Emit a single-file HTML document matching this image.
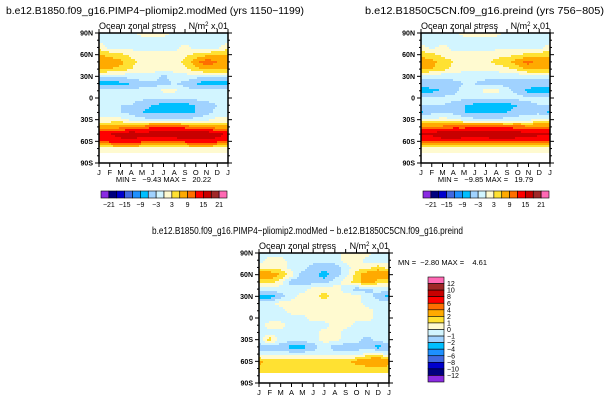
<!DOCTYPE html>
<html><head><meta charset="utf-8">
<style>
html,body{margin:0;padding:0;background:#fff;}
svg{display:block;font-family:"Liberation Sans",sans-serif;}
</style></head>
<body>
<svg id="chart" width="611" height="401" viewBox="0 0 611 401" xmlns="http://www.w3.org/2000/svg">
<text x="6" y="14" font-size="10" textLength="298" lengthAdjust="spacingAndGlyphs">b.e12.B1850.f09_g16.PIMP4−pliomip2.modMed (yrs 1150−1199)</text>
<text x="365" y="14" font-size="10" textLength="239" lengthAdjust="spacingAndGlyphs">b.e12.B1850C5CN.f09_g16.preind (yrs 756−805)</text>
<text x="152" y="234" font-size="10" textLength="311" lengthAdjust="spacingAndGlyphs">b.e12.B1850.f09_g16.PIMP4−pliomip2.modMed − b.e12.B1850C5CN.f09_g16.preind</text>
</svg>
<script>
const months=["J","F","M","A","M","J","J","A","S","O","N","D","J"];
const lats=[90,80,70,60,50,40,30,20,10,0,-10,-20,-30,-40,-50,-60,-70,-80,-90];
const latTicks=["90N","60N","30N","0","30S","60S","90S"];
const N=NaN;
const fieldLeft=[
[-1,-1,-1,-1,1,1,1,-1,-1,-1,-1,-1,-1],
[-1,-1,-1,-1,-1,-1,-1,-1,-1,-1,-1,-1,-1],
[2,-1,-1,-1,-1,-1,-1,-1,1,-1,-1,-1,2],
[6,5,4,2,1,1,1,1,2,4,5,6,6],
[9,8,7,4,2,1,1,1,4,8,11,9,9],
[7,6,5,3,1,1,1,1,2,5,7,7,7],
[-2,-2,-2,-2,-1,-1,-4,-1,-1,-2,-2,-2,-2],
[-8,-8,-7,-6,-4,-4,-4,-3,-4,-6,-8,-8,-8],
[-2,-2,-2,-2,-2,-2,1,1,-2,-2,-2,-2,-2],
[-2,-2,-2,-2,-2,-3,-3,-3,-3,-2,-2,-2,-2],
[-3,-3,-3,-3,-5,-6,-7,-7,-7,-6,-4,-3,-3],
[-2,-2,-3,-4,-6,-7,-7,-7,-7,-6,-4,-2,-2],
[1,1,1,-1,-2,-2,-2,-2,-2,-2,-1,1,1],
[7,7,8,9,10,12,12,12,11,10,9,7,7],
[14,15,16,18,16,17,17,17,18,18,18,17,14],
[12,13,14,14,13,13,13,13,13,14,14,13,12],
[2,2,2,2,2,2,2,2,2,2,2,2,2],
[N,N,N,N,N,N,N,N,N,N,N,N,N],
[N,N,N,N,N,N,N,N,N,N,N,N,N]];
const fieldRight=[
[-1,-1,-1,-1,1,1,1,1,-1,-1,-1,-1,-1],
[-1,-1,-1,-1,-1,-1,-1,-1,-1,-1,-1,-1,-1],
[1,-1,1,-1,-1,-1,-1,-1,-1,-1,-1,-1,1],
[5,4,2,1,1,1,1,2,2,3,4,5,5],
[8,7,5,3,1,1,2,4,5,8,10,8,8],
[7,6,4,2,1,1,1,1,2,4,7,7,7],
[-2,-2,-2,-2,-2,-2,-2,-2,-2,-2,-2,-2,-2],
[-4,-4,-4,-4,-3,-3,-4,-4,-4,-4,-4,-4,-4],
[-8,-7,-6,-4,-2,-2,1,1,-2,-4,-7,-8,-8],
[-2,-2,-2,-2,-2,-2,-2,-2,-3,-2,-2,-2,-2],
[-3,-3,-3,-4,-6,-7,-7,-7,-7,-6,-4,-3,-3],
[-7,-4,-3,-4,-6,-7,-7,-7,-6,-5,-4,-4,-7],
[1,1,1,1,-1,-2,-2,-2,-2,-1,-1,1,1],
[10,10,10,11,11,12,12,12,11,11,10,10,10],
[16,16,18,18,17,17,17,18,18,17,16,16,16],
[12,12,13,13,13,13,13,13,13,13,13,12,12],
[1,1,1,1,1,1,1,1,1,1,1,1,1],
[N,N,N,N,N,N,N,N,N,N,N,N,N],
[N,N,N,N,N,N,N,N,N,N,N,N,N]];
const fieldDiff=[
[-0.5,-0.5,-0.5,-0.5,-0.5,-0.5,-0.5,-0.5,0.5,0.5,0.5,-0.5,-0.5],
[-0.5,0.5,0.5,-0.5,-0.5,-0.5,-0.5,-0.5,0.5,0.5,-0.5,-0.5,-0.5],
[0.5,0.5,0.5,-0.5,-0.5,-1.5,-1.5,-1.5,-0.5,0.5,0.5,1.5,0.5],
[3,3,2,0.5,-1.5,-1.5,-2.5,-1.5,-0.5,1.5,3,3,3],
[1.5,1.5,0.5,-1.5,-1.5,-1.5,-1.5,-0.5,0.5,1.5,3,1.5,1.5],
[-0.5,-0.5,-0.5,-0.5,-0.5,0.5,0.5,0.5,-0.5,-1.5,-1.5,-0.5,-0.5],
[-2.5,-2.5,-1.5,-0.5,0.5,0.5,1.5,0.5,0.5,0.5,-0.5,-1.5,-2.5],
[-0.5,-0.5,0.5,0.5,0.5,0.5,0.5,0.5,0.5,0.5,-0.5,-0.5,-0.5],
[-0.5,-0.5,-0.5,0.5,0.5,0.5,0.5,0.5,0.5,0.5,0.5,-0.5,-0.5],
[-0.5,-0.5,-0.5,-0.5,-0.5,0.5,0.5,0.5,0.5,0.5,0.5,-0.5,-0.5],
[-0.5,0.5,0.5,-0.5,-0.5,-0.5,-0.5,0.5,0.5,-0.5,-0.5,-0.5,-0.5],
[-0.5,-0.5,-0.5,-0.5,-0.5,-0.5,0.5,0.5,-0.5,-0.5,-0.5,-0.5,-0.5],
[-0.5,1.5,-0.5,-0.5,-0.5,-0.5,0.5,0.5,-0.5,-0.5,-1.5,-0.5,-0.5],
[-1.5,-1.5,-1.5,-2.5,-2.5,-1.5,-0.5,-1.5,-1.5,-1.5,-1.5,-2.5,-1.5],
[-0.5,-0.5,-0.5,-0.5,-0.5,-0.5,-0.5,-0.5,-0.5,-0.5,0.5,0.5,-0.5],
[2.5,1.5,1.5,1.5,1.5,1.5,1.5,1.5,1.5,2.5,3,4,2.5],
[1.5,1.5,1.5,1.5,1.5,1.5,1.5,1.5,1.5,1.5,1.5,1.5,1.5],
[N,N,N,N,N,N,N,N,N,N,N,N,N],
[N,N,N,N,N,N,N,N,N,N,N,N,N]];
const levelsMain=[-21,-18,-15,-12,-9,-6,-3,0,3,6,9,12,15,18,21];
const levelsMainLabels=["−21","−15","−9","−3","3","9","15","21"];
const levelsDiff=[-12,-10,-8,-6,-4,-2,-1,0,1,2,4,6,8,10,12];
const levelsDiffLabels=["12","10","8","6","4","2","1","0","−1","−2","−4","−6","−8","−10","−12"];
const palette=["#8a2be2","#00007f","#0000cd","#4169e1","#1e90ff","#00bfff","#a0d2ff","#d2f5ff","#fffad0","#ffe132","#ffaa00","#ff6e00","#ff0000","#c80000","#a02828","#ff69b4"];
const stats=[["MIN =   −9.43 MAX =   20.22"],["MIN =   −9.85 MAX =   19.79"],["MN =  −2.80 MAX =    4.61"]];

const svg=document.getElementById('chart');
const NS="http://www.w3.org/2000/svg";
function mk(tag,attrs,parent){const e=document.createElementNS(NS,tag);for(const k in attrs)e.setAttribute(k,attrs[k]);(parent||svg).appendChild(e);return e;}
function colorFor(v,levels){let i=0;while(i<levels.length&&v>=levels[i])i++;return palette[i];}
function sample(f,r,c){
  const r0=Math.floor(r),c0=Math.floor(c),r1=Math.min(r0+1,f.length-1),c1=Math.min(c0+1,f[0].length-1);
  const nr=Math.round(r),nc=Math.round(c);
  if(isNaN(f[nr][nc]))return NaN;
  const fr=r-r0,fc=c-c0;
  const g=(a,b)=>{let v=f[a][b];return isNaN(v)?f[nr][nc]:v;};
  return g(r0,c0)*(1-fr)*(1-fc)+g(r0,c1)*(1-fr)*fc+g(r1,c0)*fr*(1-fc)+g(r1,c1)*fr*fc;
}
function panel(name,px,py,w,h,field,levels,stat,showStatBelow){
  const g=mk('g',{});
  
  
  const xS=c=>px+c/(months.length-1)*w;
  const yS=lat=>py+(90-lat)/180*h;
  const step=2;
  for(let y=0;y<h;y+=step){
    const lat=90-(y+step/2)/h*180;
    const r=(90-lat)/10;
    const cols=[];
    for(let x=0;x<w;x+=step){
      const c=Math.min((x+step/2)/w*12,12);
      const v=sample(field,r,c);
      cols.push(isNaN(v)?'#ffffff':colorFor(v,levels));
    }
    cols.push(null);
    let runStart=0;
    for(let i=1;i<cols.length;i++){
      if(cols[i]!==cols[i-1]){
        const x0=runStart*step,x1=Math.min(i*step,w);
        const rc=mk('rect',{x:px+x0,y:py+y,width:x1-x0,height:Math.min(step,h-y)+0.3,fill:cols[i-1]},g);
        
        
        runStart=i;
      }
    }
  }
  const fr=mk('rect',{x:px,y:py,width:w,height:h,fill:'none',stroke:'#000','stroke-width':1.5},g);
  
  
  months.forEach((m,i)=>{
    const x=xS(i);
    mk('line',{x1:x,y1:py+h,x2:x,y2:py+h+4,stroke:'#000','stroke-width':1},g);
    mk('line',{x1:x,y1:py,x2:x,y2:py-4,stroke:'#000','stroke-width':1},g);
    const t=mk('text',{x:x,y:py+h+12,'font-size':7.5,'text-anchor':'middle'},g);t.textContent=m;
    
    
  });
  for(let lat=-90;lat<=90;lat+=10){
    const y=yS(lat),len=lat%30===0?4:2;
    mk('line',{x1:px-len,y1:y,x2:px,y2:y,stroke:'#000','stroke-width':1},g);
    mk('line',{x1:px+w,y1:y,x2:px+w+len,y2:y,stroke:'#000','stroke-width':1},g);
  }
  latTicks.forEach((l,i)=>{
    const t=mk('text',{x:px-6,y:yS(90-i*30)+2.5,'font-size':7,'text-anchor':'end','font-weight':'bold'},g);t.textContent=l;
    
    
  });
  const s1=mk('text',{x:px,y:py-4,'font-size':9},g);s1.textContent="Ocean zonal stress";
  
  
  const s2=mk('text',{x:px+w,y:py-4,'font-size':9,'text-anchor':'end'},g);s2.innerHTML='N/m<tspan font-size="6" dy="-3">2</tspan><tspan dy="3"> x.01</tspan>';
  
  
  let st;
  if(showStatBelow){st=mk('text',{x:px+w/2,y:py+h+19,'font-size':7.5,'text-anchor':'middle'},g);}
  else{st=mk('text',{x:px+w+9,y:py+12,'font-size':7.5},g);}
  st.setAttribute('xml:space','preserve');st.style.whiteSpace='pre';
  st.textContent=stat[0];
  
  
}
function hbar(name,x0,y0,w,h){
  const g=mk('g',{});
  
  
  const bw=w/palette.length;
  palette.forEach((c,i)=>{const r=mk('rect',{x:x0+i*bw,y:y0,width:bw,height:h,fill:c,stroke:'#000','stroke-width':0.6},g);
    
    });
  levelsMainLabels.forEach((l,i)=>{const t=mk('text',{x:x0+(1+i*2)*bw,y:y0+h+9,'font-size':7,'text-anchor':'middle'},g);t.textContent=l;
    
    });
}
function vbar(name,x0,y0,w,h){
  const g=mk('g',{});
  
  
  const bh=h/palette.length;
  palette.slice().reverse().forEach((c,i)=>{const r=mk('rect',{x:x0,y:y0+i*bh,width:w,height:bh,fill:c,stroke:'#000','stroke-width':0.6},g);
    
    });
  levelsDiffLabels.forEach((l,i)=>{const t=mk('text',{x:x0+w+3,y:y0+(i+1)*bh+2.5,'font-size':7},g);t.textContent=l;
    
    });
}
panel('panel-pliomip2',99,33,129,130,fieldLeft,levelsMain,stats[0],true);
panel('panel-preind',421,33,129,130,fieldRight,levelsMain,stats[1],true);
panel('panel-difference',259,253,130,130,fieldDiff,levelsDiff,stats[2],false);
hbar('colorbar-left',101,191,126,7);
hbar('colorbar-right',423,191,126,7);
vbar('colorbar-difference',428,277,16,105);
</script>
</body></html>
